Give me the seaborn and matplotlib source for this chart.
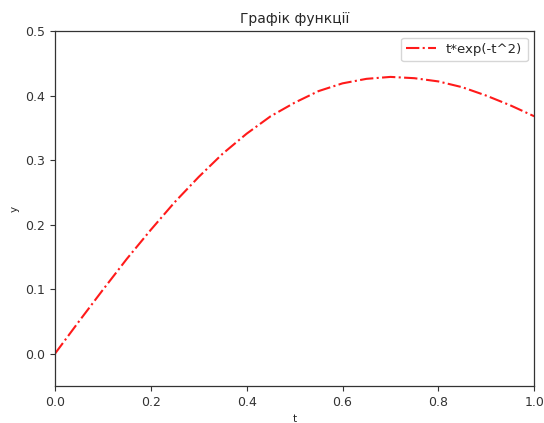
import matplotlib
matplotlib.use("Agg")
import matplotlib.pyplot as plt
import seaborn as sns
import pandas as pd

t_values = [0.0, 0.05, 0.1, 0.15, 0.2, 0.25, 0.3, 0.35, 0.4, 0.45, 0.5,
            0.55, 0.6, 0.65, 0.7, 0.75, 0.8, 0.85, 0.9, 0.95, 1.0]
y_values = [0.0, 0.050, 0.099, 0.147, 0.192, 0.235, 0.274, 0.310, 0.341, 0.368, 0.389,
            0.407, 0.419, 0.426, 0.429, 0.427, 0.422, 0.413, 0.400, 0.385, 0.368]
series_label = "t*exp(-t^2)"
title = "Графік функції"

sns.set_style("ticks")
plt.rcParams['font.family'] = ['DejaVu Sans']
plt.rcParams['font.size'] = 8.5

df = pd.DataFrame({"t": t_values, "y": y_values})

fig = plt.figure(figsize=(5.44, 4.23), dpi=100)
ax = fig.add_axes([0.101, 0.0875, 0.881, 0.839])
sns.lineplot(data=df, x="t", y="y", ax=ax, color="#ff1a1a", linestyle="-.",
             linewidth=1.5, label=series_label)
ax.set_xlim(0, 1)
ax.set_ylim(-0.05, 0.5)
ax.set_xticks([0.0, 0.2, 0.4, 0.6, 0.8, 1.0])
ax.set_yticks([0.0, 0.1, 0.2, 0.3, 0.4, 0.5])
ax.set_xlabel("t", fontsize=7.5)
ax.set_ylabel("y", fontsize=7.5)
ax.set_title(title, fontsize=10)
for s in ax.spines.values():
    s.set_visible(True)
    s.set_color("#333333")
    s.set_linewidth(0.9)
ax.tick_params(colors="#333333", labelsize=9, direction="out", length=3.5)
ax.legend(loc="upper right", fontsize=9.5, frameon=True, handlelength=2.2)
fig.savefig("out.png", dpi=100)
